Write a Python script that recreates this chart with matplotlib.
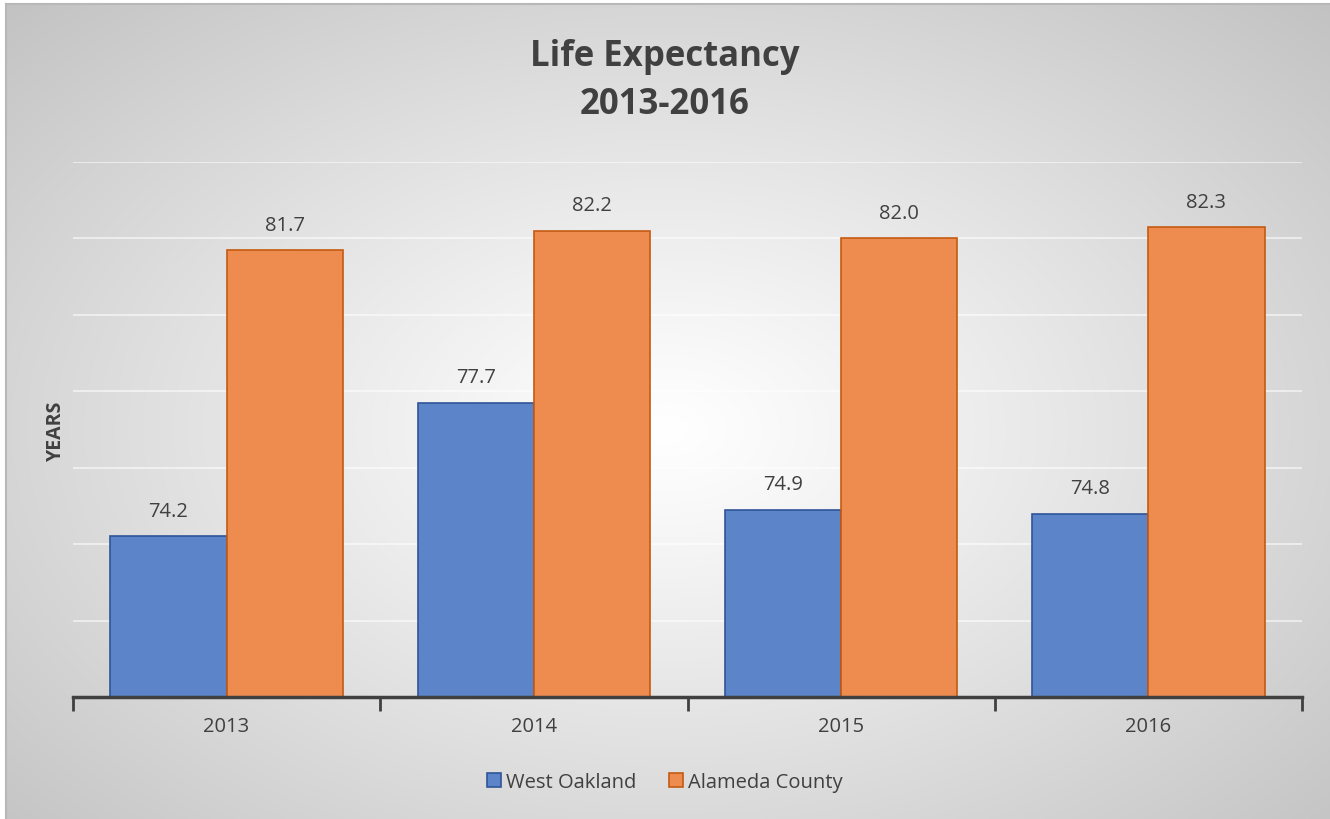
import numpy as np
import matplotlib
matplotlib.use('Agg')
import matplotlib.pyplot as plt

years = ['2013', '2014', '2015', '2016']
west_oakland = [74.2, 77.7, 74.9, 74.8]
alameda = [81.7, 82.2, 82.0, 82.3]

plt.rcParams['font.family'] = ['Open Sans', 'DejaVu Sans']

W, H = 1330, 820
fig = plt.figure(figsize=(W / 100, H / 100), dpi=100)

# radial gradient background
bg = fig.add_axes([0, 0, 1, 1], zorder=-10)
yy, xx = np.mgrid[0:H, 0:W]
r = np.sqrt(((xx - 665) / 665.0) ** 2 + ((yy - 430) / 430.0) ** 2) / np.sqrt(2)
val = 1.0 - 0.24 * r ** 1.1
img = np.dstack([val, val, val])
img[:5, :, :] = 1.0
img[:, :6, :] = 1.0
bg.imshow(img, extent=[0, W, H, 0], aspect='auto', interpolation='bilinear')
bg.plot([6, 6], [5, H], color='#b8b8b8', lw=1.5)
bg.plot([6, W], [5, 5], color='#b8b8b8', lw=1.5)
bg.set_xlim(0, W)
bg.set_ylim(H, 0)
bg.axis('off')

ax = fig.add_axes([73 / W, 1 - 698 / H, (1302 - 73) / W, (698 - 163) / H])
ax.patch.set_alpha(0)

x = np.arange(len(years))
w = 0.378
b1 = ax.bar(x - w / 2, np.array(west_oakland) - 70, w, bottom=70,
            color='#5b84c9', edgecolor='#2f5597', linewidth=1.2, zorder=3)
b2 = ax.bar(x + w / 2, np.array(alameda) - 70, w, bottom=70,
            color='#ee8c4f', edgecolor='#c55a11', linewidth=1.2, zorder=3)

for xi, v in zip(x, west_oakland):
    ax.text(xi - w / 2, v + 0.4, '%.1f' % v, ha='center', va='bottom',
            fontsize=14.5, color='#404040')
for xi, v in zip(x, alameda):
    ax.text(xi + w / 2, v + 0.4, '%.1f' % v, ha='center', va='bottom',
            fontsize=14.5, color='#404040')

ax.set_ylim(70, 84)
ax.set_xlim(-0.5, 3.5)
ax.set_yticks(np.arange(72, 85, 2))
ax.yaxis.grid(True, color='white', alpha=0.55, lw=1.5, zorder=0)
ax.tick_params(axis='y', length=0, labelleft=False)

ax.set_xticks(x)
ax.set_xticklabels(years, fontsize=14.5, color='#404040')
ax.tick_params(axis='x', length=0, pad=14)
ax.set_xticks(np.arange(-0.5, 4, 1), minor=True)
ax.tick_params(axis='x', which='minor', length=10, width=2, color='#404040')

for s in ['top', 'right', 'left']:
    ax.spines[s].set_visible(False)
ax.spines['bottom'].set_color('#404040')
ax.spines['bottom'].set_linewidth(2.5)
ax.spines['bottom'].set_zorder(5)

ax.set_ylabel('YEARS', fontsize=14, fontweight='bold', color='#404040', labelpad=5)

fig.text(0.5, 1 - 57 / H, 'Life Expectancy', ha='center', va='center',
         fontsize=25, fontweight='bold', color='#404040')
fig.text(0.5, 1 - 105 / H, '2013-2016', ha='center', va='center',
         fontsize=25, fontweight='bold', color='#404040')

leg = fig.legend([b1, b2], ['West Oakland', 'Alameda County'], loc='center',
                 bbox_to_anchor=(0.5, 1 - 783 / H), ncol=2, frameon=False,
                 fontsize=14.5, handlelength=0.7, handleheight=0.7,
                 handletextpad=0.25, columnspacing=1.6)
for t in leg.get_texts():
    t.set_color('#404040')

fig.savefig('out.png', dpi=100)
